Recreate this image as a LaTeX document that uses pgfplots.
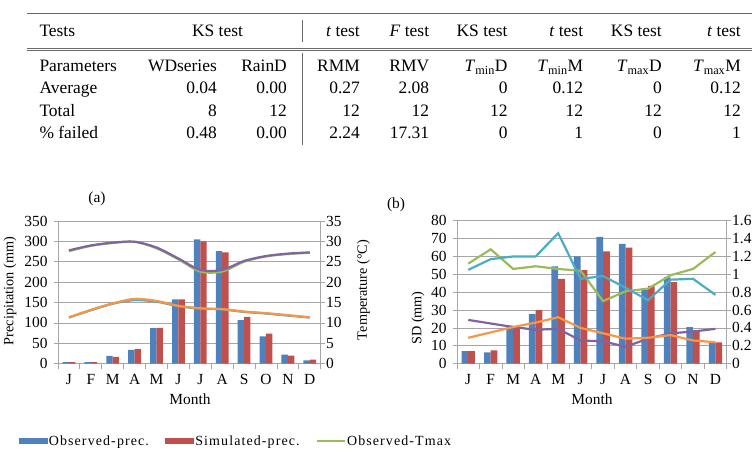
\documentclass[border=0pt]{standalone}
\usepackage{pgfplots}
\pgfplotsset{compat=1.18}
\usepackage{fontspec}
\setmainfont{Liberation Serif}
\newfontfamily\legfont[LetterSpace=8]{Liberation Serif}
\definecolor{cblue}{HTML}{4F81BD}
\definecolor{cred}{HTML}{C0504D}
\definecolor{cgreen}{HTML}{9BBB59}
\definecolor{cpurple}{HTML}{8064A2}
\definecolor{cteal}{HTML}{4BACC6}
\definecolor{corange}{HTML}{F79646}
\definecolor{rulegray}{HTML}{6A6A6A}
\definecolor{axgray}{HTML}{A6A6A6}
\newcommand\tf{\fontsize{17.5}{21}\selectfont}
\newcommand\ticf{\fontsize{15.5}{18}\selectfont}
\newcommand\labf{\fontsize{14.3}{17}\selectfont}
\newcommand\TR[3]{\node[anchor=base east,inner sep=0pt] at (#1bp,-#2bp) {\tf #3};}
\newcommand\TL[3]{\node[anchor=base west,inner sep=0pt] at (#1bp,-#2bp) {\tf #3};}

\pgfplotsset{
  base/.style={
    scale only axis, enlargelimits=false,
    xmin=-0.5, xmax=11.5,
    /pgf/number format/assume math mode=true,
    tick label style={font=\ticf},
    axis line style={draw=axgray, line width=0.8pt},
    tick style={draw=axgray, line width=0.8pt},
    tick align=outside, major tick length=4bp, minor tick length=5bp,
  },
  prim/.style={
    base,
    axis x line*=bottom, axis y line*=left,
    xtick={0,...,11}, xticklabels={J,F,M,A,M,J,J,A,S,O,N,D},
    xticklabel style={yshift=-3.5bp},
    yticklabel style={xshift=-3bp},
    major x tick style={draw=none},
    minor xtick={-0.5,0.5,...,11.5},
    ymajorgrids, grid style={draw=axgray, line width=0.7pt},
    ybar=0pt,
  },
  sec/.style={
    base,
    axis x line=none, axis y line*=right,
    yticklabel style={xshift=-2bp},
    xtick=\empty,
  },
  ln/.style={line width=2.2pt},
}

\begin{document}
\begin{tikzpicture}
\path[use as bounding box] (0,0) rectangle (752bp,-457bp);

% ---------------- table ----------------
\draw[rulegray, line width=1.4pt] (27bp,-13.3bp) -- (752bp,-13.3bp);
\draw[rulegray, line width=0.8pt] (27bp,-48.6bp) -- (752bp,-48.6bp);
\draw[rulegray, line width=0.8pt] (27bp,-50.8bp) -- (752bp,-50.8bp);
\draw[rulegray, line width=1.2pt] (302.7bp,-20bp) -- (302.7bp,-42bp);
\draw[rulegray, line width=1.2pt] (302.7bp,-53bp) -- (302.7bp,-145bp);

\TL{39.3}{36.5}{Tests}
\node[anchor=base,inner sep=0pt] at (217.5bp,-36.5bp) {\tf KS test};
\TR{360}{36.5}{\textit{t} test}
\TR{429.3}{36.5}{\textit{F} test}
\TR{507.7}{36.5}{KS test}
\TR{583.3}{36.5}{\textit{t} test}
\TR{662}{36.5}{KS test}
\TR{741}{36.5}{\textit{t} test}

\TL{39.3}{71.5}{Parameters}
\TR{217}{71.5}{WDseries}
\TR{287}{71.5}{RainD}
\TR{360}{71.5}{RMM}
\TR{429.3}{71.5}{RMV}
\TR{507.7}{71.5}{\textit{T}\textsubscript{min}D}
\TR{583.3}{71.5}{\textit{T}\textsubscript{min}M}
\TR{662}{71.5}{\textit{T}\textsubscript{max}D}
\TR{741}{71.5}{\textit{T}\textsubscript{max}M}

\TL{39.3}{93.9}{Average}
\TR{217}{93.9}{0.04}
\TR{287}{93.9}{0.00}
\TR{360}{93.9}{0.27}
\TR{429.3}{93.9}{2.08}
\TR{507.7}{93.9}{0}
\TR{583.3}{93.9}{0.12}
\TR{662}{93.9}{0}
\TR{741}{93.9}{0.12}

\TL{39.3}{116}{Total}
\TR{217}{116}{8}
\TR{287}{116}{12}
\TR{360}{116}{12}
\TR{429.3}{116}{12}
\TR{507.7}{116}{12}
\TR{583.3}{116}{12}
\TR{662}{116}{12}
\TR{741}{116}{12}

\TL{39.3}{138.2}{\% failed}
\TR{217}{138.2}{0.48}
\TR{287}{138.2}{0.00}
\TR{360}{138.2}{2.24}
\TR{429.3}{138.2}{17.31}
\TR{507.7}{138.2}{0}
\TR{583.3}{138.2}{1}
\TR{662}{138.2}{0}
\TR{741}{138.2}{1}

% ---------------- chart (a) ----------------
\begin{axis}[prim, at={(58bp,-363.7bp)}, anchor=south west,
  width=262.7bp, height=142.7bp,
  ymin=0, ymax=350, ytick={0,50,...,350},
  bar width=6.4bp,
  legend columns=3,
  legend style={at={(axis description cs:-0.1485,-0.5417)}, anchor=west,
    draw=none, fill=none, inner sep=0pt, outer sep=0pt,
    font=\legfont\fontsize{14}{16}\selectfont,
    nodes={inner sep=1.5bp},
    /tikz/every even column/.append style={column sep=15bp}},
  legend cell align=left,
]
\addplot[fill=cblue, draw=none, forget plot, bar shift=-3.2bp] coordinates {(0,4) (1,4) (2,19) (3,34) (4,87) (5,158) (6,305) (7,276) (8,107) (9,67) (10,22) (11,8)};
\addplot[fill=cred, draw=none, forget plot, bar shift=3.2bp] coordinates {(0,4) (1,4) (2,17) (3,36) (4,88) (5,158) (6,300) (7,273) (8,115) (9,74) (10,20) (11,10)};
\addlegendimage{legend image code/.code={\fill[cblue] (0bp,-2.6bp) rectangle (28bp,2.6bp);}}
\addlegendentry{Observed-prec.}
\addlegendimage{legend image code/.code={\fill[cred] (0bp,-2.6bp) rectangle (28bp,2.6bp);}}
\addlegendentry{Simulated-prec.}
\addlegendimage{legend image code/.code={\draw[cgreen, line width=1.4pt] (0bp,0bp) -- (28bp,0bp);}}
\addlegendentry{Observed-Tmax}
\end{axis}
\begin{axis}[sec, at={(58bp,-363.7bp)}, anchor=south west,
  width=262.7bp, height=142.7bp,
  ymin=0, ymax=35, ytick={0,5,...,35}]
\addplot[cgreen, ln, smooth] coordinates {(0,27.6) (1,28.9) (2,29.6) (3,29.9) (4,28.3) (5,25.6) (6,22.6) (7,22.6) (8,25.0) (9,26.3) (10,26.9) (11,27.2)};
\addplot[cpurple, ln, smooth] coordinates {(0,27.8) (1,29.0) (2,29.7) (3,29.9) (4,28.5) (5,25.8) (6,23.0) (7,23.0) (8,25.2) (9,26.4) (10,27.0) (11,27.3)};
\addplot[cteal, ln, smooth] coordinates {(0,11.3) (1,13.1) (2,14.7) (3,15.6) (4,15.2) (5,14.1) (6,13.5) (7,13.3) (8,12.7) (9,12.3) (10,11.8) (11,11.3)};
\addplot[corange, ln, smooth] coordinates {(0,11.4) (1,13.2) (2,14.8) (3,15.9) (4,15.4) (5,14.2) (6,13.6) (7,13.4) (8,12.8) (9,12.4) (10,11.9) (11,11.4)};
\end{axis}

% ---------------- chart (b) ----------------
\begin{axis}[prim, at={(457bp,-363.7bp)}, anchor=south west,
  width=269.7bp, height=143bp,
  ymin=0, ymax=80, ytick={0,10,...,80},
  bar width=6.7bp]
\addplot[fill=cblue, draw=none, bar shift=-3.35bp] coordinates {(0,7) (1,6.3) (2,21.3) (3,27.8) (4,54.5) (5,60) (6,70.9) (7,67) (8,42) (9,48.3) (10,20.5) (11,11.7)};
\addplot[fill=cred, draw=none, bar shift=3.35bp] coordinates {(0,7) (1,7.5) (2,20) (3,30) (4,47.4) (5,52.4) (6,62.8) (7,65) (8,43.6) (9,45.7) (10,18.8) (11,12)};
\end{axis}
\begin{axis}[sec, at={(457bp,-363.7bp)}, anchor=south west,
  width=269.7bp, height=143bp,
  ymin=0, ymax=1.6, ytick={0,0.2,...,1.6},
  yticklabel style={/pgf/number format/fixed}]
\addplot[cgreen, ln] coordinates {(0,1.12) (1,1.28) (2,1.06) (3,1.09) (4,1.06) (5,1.04) (6,0.70) (7,0.81) (8,0.84) (9,0.99) (10,1.06) (11,1.25)};
\addplot[cteal, ln] coordinates {(0,1.05) (1,1.17) (2,1.20) (3,1.20) (4,1.46) (5,0.95) (6,0.98) (7,0.85) (8,0.71) (9,0.94) (10,0.95) (11,0.77)};
\addplot[cpurple, ln] coordinates {(0,0.49) (1,0.45) (2,0.41) (3,0.38) (4,0.39) (5,0.26) (6,0.25) (7,0.19) (8,0.28) (9,0.34) (10,0.36) (11,0.39)};
\addplot[corange, ln] coordinates {(0,0.29) (1,0.35) (2,0.41) (3,0.46) (4,0.52) (5,0.40) (6,0.34) (7,0.28) (8,0.29) (9,0.32) (10,0.26) (11,0.24)};
\end{axis}

% ---------------- labels ----------------
\node[inner sep=0pt] at (97bp,-199bp) {\ticf (a)};
\node[inner sep=0pt] at (396bp,-205bp) {\ticf (b)};
\node[inner sep=0pt, rotate=90] at (10bp,-291bp) {\labf Precipitation (mm)};
\node[inner sep=0pt, rotate=90] at (363.5bp,-290bp) {\labf Temperature (°C)};
\node[inner sep=0pt, rotate=90] at (418bp,-318bp) {\labf SD (mm)};
\node[inner sep=0pt] at (190bp,-399bp) {\ticf Month};
\node[inner sep=0pt] at (592bp,-399bp) {\ticf Month};
\end{tikzpicture}
\end{document}
